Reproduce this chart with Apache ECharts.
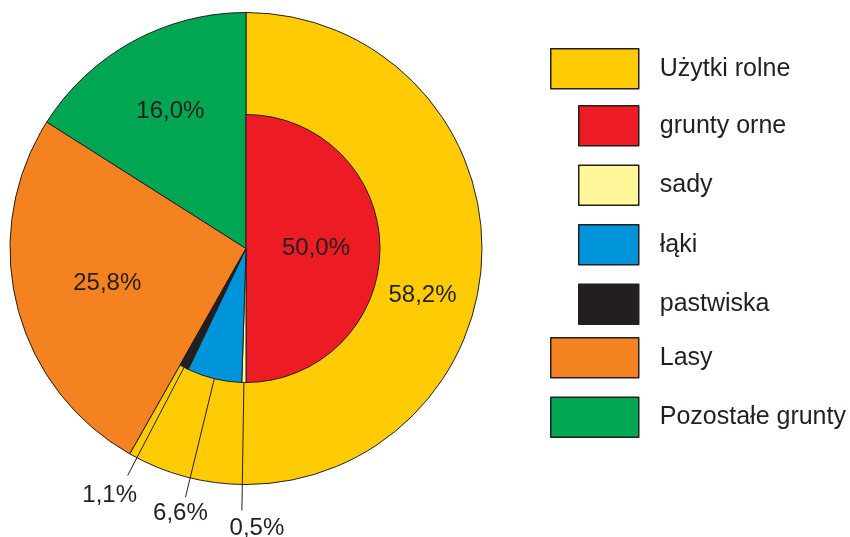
<!DOCTYPE html>
<html>
<head>
<meta charset="utf-8">
<script src="https://cdn.jsdelivr.net/npm/echarts@6/dist/echarts.min.js"></script>
<style>
html, body { margin: 0; padding: 0; background: #fff; }
#chart { width: 850px; height: 537px; }
</style>
</head>
<body>
<div id="chart"></div>
<script>
// struktura uzytkowania gruntow (%)
const mainNames = ['Użytki rolne', 'Lasy', 'Pozostałe grunty'];
const mainValues = [58.2, 25.8, 16.0];
const mainColors = ['#ffcb05', '#f58220', '#00a651'];

// podzial uzytkow rolnych (%)
const farmNames = ['grunty orne', 'sady', 'łąki', 'pastwiska'];
const farmValues = [50.0, 0.5, 6.6, 1.1];
const farmColors = ['#ed1c24', '#fff799', '#0095da', '#231f20'];

const ink = '#231f20';
const center = [246, 248.5];
const labelFont = { fontFamily: 'Liberation Sans', fontSize: 24, color: ink };
const fmt = v => v.toFixed(1).replace('.', ',') + '%';

// dlugosc linii odniesienia i przesuniecie etykiet malych wycinkow
const leaderLen = { 'sady': 128, 'łąki': 122, 'pastwiska': 122 };
const labelShift = { 'sady': [15, 6], 'łąki': [-5, 4], 'pastwiska': [-18, 8] };

// seria tylko z etykieta, zeby ustawic ja na danym promieniu
function labelRing(idx, r0, r1) {
  return {
    type: 'pie',
    silent: true,
    z: 5,
    center: center,
    radius: [r0, r1],
    startAngle: 90,
    avoidLabelOverlap: false,
    labelLine: { show: false },
    itemStyle: { color: 'transparent', borderWidth: 0 },
    emphasis: { disabled: true },
    data: mainNames.map((n, i) => ({
      name: n,
      value: mainValues[i],
      label: Object.assign({ show: i === idx, position: 'inside', formatter: p => fmt(p.value) }, labelFont)
    }))
  };
}

const chart = echarts.init(document.getElementById('chart'));

const farmData = farmNames.map((n, i) => {
  const item = {
    name: n,
    value: farmValues[i],
    itemStyle: { color: farmColors[i] }
  };
  if (i === 0) {
    item.label = { position: 'inside' };
  } else {
    item.label = { position: 'outside' };
    item.labelLine = { show: true, length: leaderLen[n], length2: 0 };
  }
  return item;
});
// reszta kola (lasy + pozostale) - niewidoczna
farmData.push({
  name: '',
  value: mainValues[1] + mainValues[2],
  itemStyle: { color: 'transparent', borderWidth: 0 },
  label: { show: false },
  labelLine: { show: false }
});

const legendText = { fontFamily: 'Liberation Sans', fontSize: 25, color: ink, padding: [0, 0, 0, 16] };
const legendBase = {
  orient: 'vertical',
  icon: 'rect',
  padding: 0,
  itemGap: 18,
  itemHeight: 40,
  selectedMode: false,
  textStyle: legendText,
  itemStyle: { borderColor: ink, borderWidth: 1.5 }
};

const option = {
  animation: false,
  backgroundColor: '#fff',
  legend: [
    Object.assign({}, legendBase, { left: 550, top: 48, itemWidth: 88, data: [mainNames[0]] }),
    Object.assign({}, legendBase, { left: 578, top: 105, itemWidth: 60, data: farmNames }),
    Object.assign({}, legendBase, { left: 550, top: 337, itemWidth: 88, data: [mainNames[1], mainNames[2]] })
  ],
  series: [
    {
      type: 'pie',
      name: 'grunty',
      silent: true,
      z: 1,
      center: center,
      radius: [0, 236],
      startAngle: 90,
      label: { show: false },
      labelLine: { show: false },
      itemStyle: { borderColor: ink, borderWidth: 1 },
      emphasis: { disabled: true },
      data: mainNames.map((n, i) => ({ name: n, value: mainValues[i], itemStyle: { color: mainColors[i] } }))
    },
    {
      type: 'pie',
      name: 'użytki rolne',
      silent: true,
      z: 3,
      center: center,
      radius: [0, 134],
      startAngle: 90,
      avoidLabelOverlap: false,
      itemStyle: { borderColor: ink, borderWidth: 1 },
      emphasis: { disabled: true },
      label: Object.assign({ show: true, formatter: p => fmt(p.value) }, labelFont),
      labelLine: { lineStyle: { color: ink, width: 1 } },
      labelLayout: function (p) {
        if (p.dataIndex === 0 || !p.labelLinePoints) return {};
        const pts = p.labelLinePoints;
        const end = pts[pts.length - 1];
        const shift = labelShift[farmNames[p.dataIndex]] || [0, 4];
        return {
          x: end[0] + shift[0],
          y: end[1] + shift[1],
          align: 'center',
          verticalAlign: 'top',
          labelLinePoints: pts
        };
      },
      data: farmData
    },
    labelRing(0, 123, 236),
    labelRing(1, 44, 236),
    labelRing(2, 72, 236)
  ]
};

chart.setOption(option);
window.addEventListener('resize', function () {
  chart.resize();
});
</script>
</body>
</html>
